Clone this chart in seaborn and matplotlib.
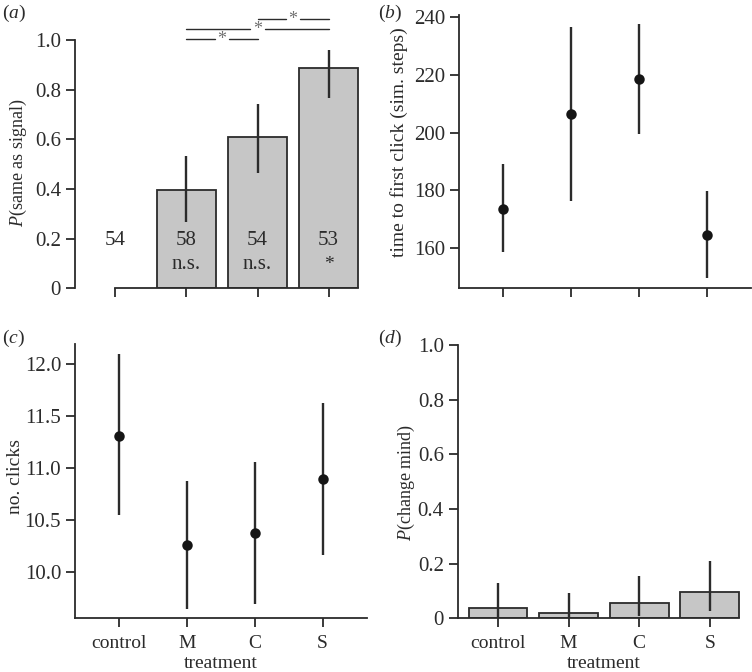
import numpy as np
import pandas as pd
import matplotlib
matplotlib.use("Agg")
import matplotlib.pyplot as plt
import seaborn as sns

# ── data ──────────────────────────────────────────────────────────────────────
treatments = ["control", "M", "C", "S"]

# (a) P(same as signal) – no bar for control
same_signal    = [None, 0.396, 0.611, 0.888]
same_signal_lo = [None, 0.267, 0.466, 0.767]
same_signal_hi = [None, 0.533, 0.742, 0.960]
n_subjects     = [54, 58, 54, 53]
signif_vs_ctrl = ["", "n.s.", "n.s.", "*"]
pair_tests     = [("M", "C"), ("M", "S"), ("C", "S")]
pair_levels    = [1.003, 1.042, 1.082]

# (b) time to first click (sim. steps)
first_click    = [173.6, 206.5, 218.6, 164.5]
first_click_lo = [158.4, 176.3, 199.5, 149.5]
first_click_hi = [189.0, 236.7, 237.5, 179.8]

# (c) number of clicks
n_clicks    = [11.31, 10.26, 10.37, 10.89]
n_clicks_lo = [10.55, 9.65, 9.69, 10.16]
n_clicks_hi = [12.09, 10.87, 11.06, 11.62]

# (d) P(change mind)
change_mind    = [0.036, 0.018, 0.056, 0.095]
change_mind_lo = [0.0, 0.0, 0.008, 0.027]
change_mind_hi = [0.128, 0.094, 0.156, 0.209]

INK = "#2b2b2b"
BAR = "#c6c6c6"
BAR_W = 0.833

sns.set_theme(style="ticks")
plt.rcParams["font.family"] = ["Liberation Serif", "DejaVu Serif"]
plt.rcParams["mathtext.fontset"] = "custom"
plt.rcParams["mathtext.rm"] = "Liberation Serif"
plt.rcParams["mathtext.it"] = "Liberation Serif:italic"
plt.rcParams.update({
    "axes.edgecolor": INK, "axes.linewidth": 1.3,
    "xtick.color": INK, "ytick.color": INK,
    "xtick.labelcolor": INK, "ytick.labelcolor": INK,
    "xtick.major.size": 6.5, "ytick.major.size": 6.5,
    "xtick.major.width": 1.3, "ytick.major.width": 1.3,
    "xtick.major.pad": 5.5,
    "xtick.labelsize": 14, "ytick.labelsize": 15,
    "axes.labelsize": 14, "axes.labelcolor": INK, "text.color": INK,
})

fig = plt.figure(figsize=(7.52, 6.72), dpi=100)
ax_a = fig.add_axes([0.0997, 0.5707, 0.391, 0.407])
ax_b = fig.add_axes([0.6104, 0.5707, 0.388, 0.407])
ax_c = fig.add_axes([0.0997, 0.0799, 0.388, 0.4077])
ax_d = fig.add_axes([0.6086, 0.0799, 0.3887, 0.4067])

xpos = np.arange(len(treatments))


def style_axes(ax):
    sns.despine(ax=ax)
    ax.set_xlabel("")
    ax.set_ylabel("")


def bar_panel(ax, vals, lo, hi):
    df = pd.DataFrame({"treatment": treatments, "value": vals}).dropna()
    sns.barplot(data=df, x="treatment", y="value", order=treatments, ax=ax,
                width=BAR_W, color=BAR, saturation=1, edgecolor=INK,
                linewidth=1.3, errorbar=None)
    keep = [i for i, v in enumerate(vals) if v is not None]
    ax.vlines(xpos[keep], [lo[i] for i in keep], [hi[i] for i in keep],
              color=INK, lw=1.7, zorder=5)
    ax.set_xlim(-0.57, 3.57)
    style_axes(ax)


def point_panel(ax, vals, lo, hi):
    df = pd.DataFrame({"treatment": treatments, "value": vals})
    ax.vlines(xpos, lo, hi, color=INK, lw=1.7, zorder=2)
    sns.pointplot(data=df, x="treatment", y="value", order=treatments, ax=ax,
                  linestyle="none", errorbar=None, color="#151515",
                  markersize=5.5, zorder=3)
    ax.set_xlim(-0.65, 3.65)
    style_axes(ax)


# ── (a) ──────────────────────────────────────────────────────────────────────
bar_panel(ax_a, same_signal, same_signal_lo, same_signal_hi)
ax_a.set_ylim(0, 1.1)
ax_a.set_yticks([0, 0.2, 0.4, 0.6, 0.8, 1.0])
ax_a.set_yticklabels(["0", "0.2", "0.4", "0.6", "0.8", "1.0"])
ax_a.spines["left"].set_bounds(0, 1.0)
ax_a.spines["bottom"].set_bounds(0, 3 + BAR_W / 2)
ax_a.set_xticks(xpos)
ax_a.set_xticklabels([])
for i, (n, s) in enumerate(zip(n_subjects, signif_vs_ctrl)):
    ax_a.text(i, 0.173, str(n), ha="center", va="baseline", fontsize=15)
    if s:
        ax_a.text(i, 0.079, s, ha="center", va="baseline",
                  fontsize=15 if s != "*" else 14)
gap = 0.1
for (g1, g2), lvl in zip(pair_tests, pair_levels):
    x1, x2 = treatments.index(g1), treatments.index(g2)
    mid = (x1 + x2) / 2
    ax_a.plot([x1, mid - gap], [lvl, lvl], color=INK, lw=1.0, clip_on=False)
    ax_a.plot([mid + gap, x2], [lvl, lvl], color=INK, lw=1.0, clip_on=False)
    ax_a.text(mid, lvl, "*", ha="center", va="center", fontsize=13,
              color="#707070")
ax_a.set_ylabel("$\\it{P}$(same as signal)", fontsize=13)
ax_a.yaxis.set_label_coords(-0.158, 0.459)

# ── (b) ──────────────────────────────────────────────────────────────────────
point_panel(ax_b, first_click, first_click_lo, first_click_hi)
ax_b.set_ylim(145.9, 240.8)
ax_b.set_yticks([160, 180, 200, 220, 240])
ax_b.set_xticklabels([])
ax_b.set_ylabel("time to first click (sim. steps)")
ax_b.yaxis.set_label_coords(-0.176, 0.534)

# ── (c) ──────────────────────────────────────────────────────────────────────
point_panel(ax_c, n_clicks, n_clicks_lo, n_clicks_hi)
ax_c.set_ylim(9.556, 12.185)
ax_c.set_yticks([10.0, 10.5, 11.0, 11.5, 12.0])
ax_c.set_yticklabels(["10.0", "10.5", "11.0", "11.5", "12.0"])
ax_c.set_ylabel("no. clicks")
ax_c.yaxis.set_label_coords(-0.175, 0.516)
ax_c.set_xlabel("treatment")
ax_c.xaxis.set_label_coords(0.5, -0.135)

# ── (d) ──────────────────────────────────────────────────────────────────────
bar_panel(ax_d, change_mind, change_mind_lo, change_mind_hi)
ax_d.set_ylim(0, 1.0)
ax_d.set_yticks([0, 0.2, 0.4, 0.6, 0.8, 1.0])
ax_d.set_yticklabels(["0", "0.2", "0.4", "0.6", "0.8", "1.0"])
ax_d.spines["bottom"].set_bounds(-0.57, 3 + BAR_W / 2)
ax_d.set_ylabel("$\\it{P}$(change mind)", fontsize=13)
ax_d.yaxis.set_label_coords(-0.139, 0.497)
ax_d.set_xlabel("treatment")
ax_d.xaxis.set_label_coords(0.5, -0.135)

for lab, (fx, fy) in zip("abcd", [(0.002, 0.995), (0.502, 0.995),
                                   (0.002, 0.512), (0.502, 0.512)]):
    fig.text(fx, fy, f"($\\it{{{lab}}}$)", ha="left", va="top", fontsize=14)

fig.savefig("out.png", dpi=100, facecolor="white")
